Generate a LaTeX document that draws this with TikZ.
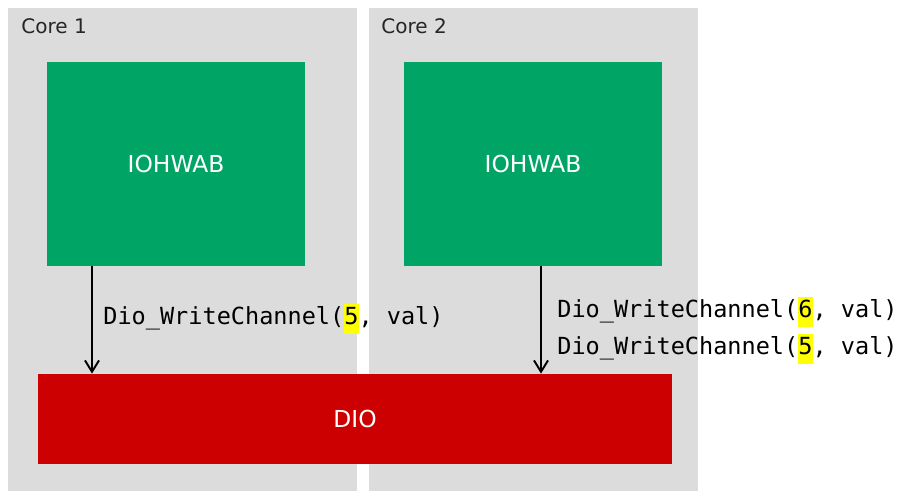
\documentclass[tikz,border=0pt]{standalone}
\usepackage{fontspec}
\setmainfont{DejaVu Sans}
\setmonofont{DejaVu Sans Mono}
\usetikzlibrary{positioning,arrows.meta}
\definecolor{coregray}{RGB}{220,220,220}
\definecolor{swgreen}{RGB}{0,165,102}
\definecolor{dired}{RGB}{204,0,0}
\definecolor{hlyellow}{RGB}{255,255,0}
\newcommand{\chan}[1]{{\setlength{\fboxsep}{0pt}\colorbox{hlyellow}{\strut #1}}}
\tikzstyle{core} = [rectangle, fill=coregray, inner sep=0pt, minimum width=6.98cm, minimum height=9.66cm]
\tikzstyle{corelabel} = [anchor=west, inner sep=0pt, text=black!85, font=\fontsize{11.4}{14}\selectfont]
\tikzstyle{module} = [rectangle, inner sep=0pt, text=white, font=\fontsize{13.3}{16}\selectfont]
\tikzstyle{call} = [anchor=west, inner sep=0pt, font=\ttfamily\fontsize{13.4}{17}\selectfont]
\tikzstyle{link} = [-{Straight Barb[length=6.5pt,width=8pt]}, line width=1.1pt]

\begin{document}
\begin{tikzpicture}
                    \useasboundingbox (0,0) rectangle (18.02,9.82);
                    \node[core] (core1) at (3.65,4.83) {};
                    \node[core, minimum width=6.58cm] (core2) at (10.67,4.83) {};
                    \node[corelabel] at (0.42,9.30) {Core 1};
                    \node[corelabel] at (7.62,9.30) {Core 2};

                    \node[module, fill=swgreen, minimum width=5.16cm, minimum height=4.08cm] (iohwab1) at (3.52,6.54) {IOHWAB};
                    \node[module, fill=swgreen, minimum width=5.16cm, minimum height=4.08cm] (iohwab2) at (10.66,6.54) {IOHWAB};
                    \node[module, fill=dired, minimum width=12.68cm, minimum height=1.80cm] (dio) at (7.10,1.44) {DIO};

                    \coordinate (w1) at (1.84,0);
                    \coordinate (w2) at (10.82,0);
                    \draw[link] (w1 |- iohwab1.south) -- (w1 |- dio.north);
                    \draw[link] (w2 |- iohwab2.south) -- (w2 |- dio.north);

                    \node[call] (call1) at (2.06,3.44) {Dio\_WriteChannel(\chan{5}, val)};
                    \node[call] (call2) at (11.14,3.58) {Dio\_WriteChannel(\chan{6}, val)};
                    \node[call] (call3) at (11.14,2.84) {Dio\_WriteChannel(\chan{5}, val)};
                \end{tikzpicture}
\end{document}
